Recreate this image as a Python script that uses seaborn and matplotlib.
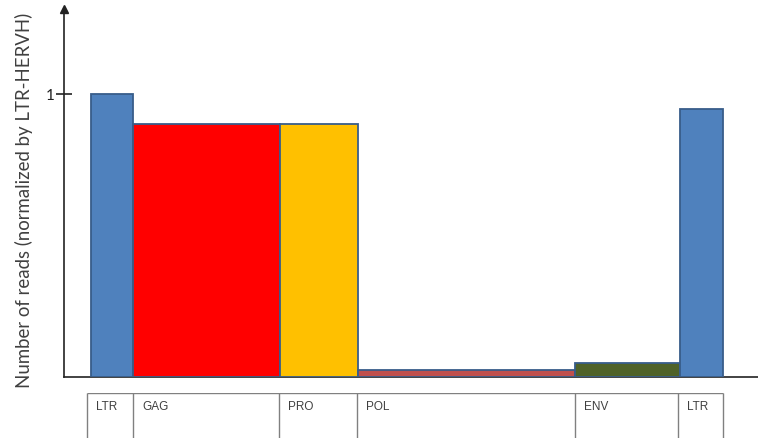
import matplotlib
matplotlib.use("Agg")
import matplotlib.pyplot as plt
import seaborn as sns

# ---- data ----
regions = ["LTR", "GAG", "PRO", "POL", "ENV", "LTR"]
region_starts = [0, 42, 189, 267, 484, 589]
region_widths = [42, 147, 78, 217, 105, 43]
reads_norm = [1.0, 0.895, 0.895, 0.025, 0.05, 0.947]
colors = ["#4F81BD", "#FF0000", "#FFC000", "#C0504D", "#4F6228", "#4F81BD"]
table_edges = [-4, 42, 188, 266, 484, 587, 632]

sns.set_theme(style="white")
plt.rcParams["font.family"] = ["Lato", "DejaVu Sans"]

W, H = 758, 439
fig = plt.figure(figsize=(W / 100, H / 100), dpi=100)

# main axes: left axis at px 64, baseline at px 378, top (arrow) at px 10
ax = fig.add_axes([64 / W, 1 - 378 / H, (W - 64) / W, (378 - 10) / H])
ax.bar(region_starts, reads_norm, width=region_widths, align="edge",
       color=colors, edgecolor="#385D8A", linewidth=1.3, zorder=3)
ax.set_xlim(-27, 667)
ax.set_ylim(0, 1.30)

for s in ["top", "right"]:
    ax.spines[s].set_visible(False)
ax.spines["left"].set_color("#222222")
ax.spines["bottom"].set_color("#222222")
ax.spines["left"].set_linewidth(1.2)
ax.spines["bottom"].set_linewidth(1.2)
ax.plot([0], [1], marker="^", color="#222222", markersize=6,
        transform=ax.transAxes, clip_on=False, zorder=5)

ax.set_xticks([])
ax.set_yticks([1])
ax.set_yticklabels(["1"])
ax.tick_params(axis="y", direction="inout", length=12, width=1.2,
               colors="#222222", labelsize=11, left=True, pad=1)
ax.set_ylabel("Number of reads (normalized by LTR-HERVH)", fontsize=13.4,
              color="#404040")
ax.yaxis.set_label_coords(-0.045, 0.484)

# region table below
tab_bottom = -0.05
tab_top = 1 - 394 / H
tab = fig.add_axes([64 / W, tab_bottom, (W - 64) / W, tab_top - tab_bottom])
tab.set_xlim(ax.get_xlim())
tab.set_ylim(0, 1)
tab.axis("off")
tab.vlines(table_edges, 0, 1, color="#808080", linewidth=1.0)
tab.hlines(1, table_edges[0], table_edges[-1], color="#808080", linewidth=1.0)
for st, name in zip(table_edges[:-1], regions):
    tab.text(st + 9, 0.80, name, fontsize=8.5, color="#404040",
             family=["Liberation Sans"], va="center", ha="left")

fig.savefig("out.png", dpi=100)
